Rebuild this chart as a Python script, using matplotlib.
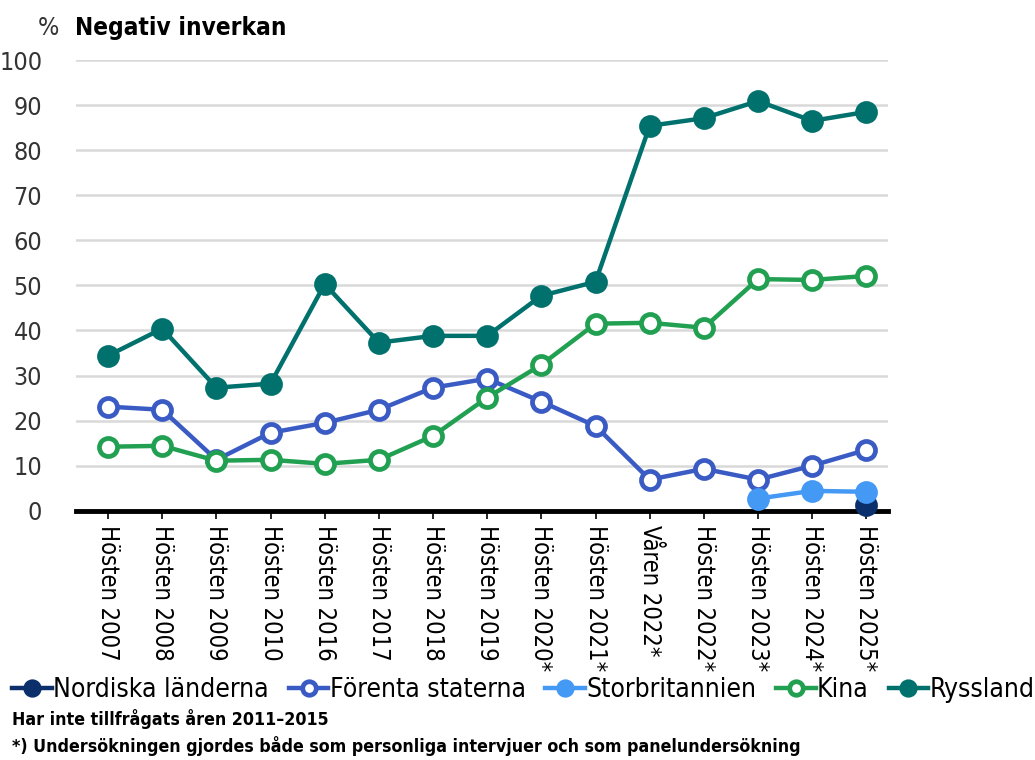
import matplotlib.pyplot as plt
import numpy as np

plt.rcParams['font.family'] = ['DejaVu Sans']
plt.rcParams['font.stretch'] = 'condensed'

# Survey rounds
categories = ['Hösten 2007', 'Hösten 2008', 'Hösten 2009', 'Hösten 2010', 'Hösten 2016',
              'Hösten 2017', 'Hösten 2018', 'Hösten 2019', 'Hösten 2020*', 'Hösten 2021*',
              'Våren 2022*', 'Hösten 2022*', 'Hösten 2023*', 'Hösten 2024*', 'Hösten 2025*']

# Share answering "negative influence" (%)
ryssland = [34.4, 40.4, 27.3, 28.2, 50.3, 37.3, 38.8, 38.8, 47.7, 50.8, 85.4, 87.1, 90.9, 86.5, 88.5]
usa = [23.1, 22.4, 11.3, 17.3, 19.5, 22.4, 27.3, 29.3, 24.2, 18.8, 6.9, 9.3, 6.9, 10.0, 13.5]
kina = [14.2, 14.4, 11.1, 11.3, 10.4, 11.3, 16.6, 25.1, 32.4, 41.5, 41.7, 40.6, 51.4, 51.2, 52.1]
storbritannien = [None] * 12 + [2.7, 4.4, 4.2]
nordiska = [None] * 14 + [1.3]

series = [
    ('Nordiska länderna', nordiska, '#0a2f6b', True),
    ('Förenta staterna', usa, '#3a5bc4', False),
    ('Storbritannien', storbritannien, '#4499f5', True),
    ('Kina', kina, '#22a052', False),
    ('Ryssland', ryssland, '#00716d', True),
]

fig = plt.figure(figsize=(10.35, 7.6), dpi=100)
ax = fig.add_axes([0.073, 0.328, 0.785, 0.593])

x = np.arange(len(categories))
for label, vals, color, filled in series:
    y = np.array([np.nan if v is None else v for v in vals], dtype=float)
    ax.plot(x, y, color=color, linewidth=3.2, marker='o', markersize=13,
            markerfacecolor=color if filled else 'white', markeredgecolor=color,
            markeredgewidth=3.4, label=label, zorder=3, clip_on=False)

ax.set_ylim(0, 100)
ax.set_xlim(-0.6, len(categories) - 0.6)
ax.set_yticks(range(0, 101, 10))
ax.yaxis.grid(True, color='#d9d9d9', linewidth=1.8)
ax.set_axisbelow(True)
ax.tick_params(axis='y', length=0, labelsize=18, labelcolor='#333333', pad=24)
ax.set_xticks(x)
ax.set_xticklabels(categories, rotation=-90, fontsize=17)
ax.tick_params(axis='x', length=6, width=1.2, pad=4)
for s in ['top', 'right', 'left']:
    ax.spines[s].set_visible(False)
ax.spines['bottom'].set_linewidth(3.5)
ax.spines['bottom'].set_zorder(2)

fig.text(0.047, 0.963, '%', fontsize=18, color='#333333', ha='center', va='center')
fig.text(0.072, 0.963, 'Negativ inverkan', fontsize=17.5, fontweight='bold', ha='left', va='center')

fig.legend(loc='center left', bbox_to_anchor=(0.012, 0.092), ncol=5, frameon=False,
           fontsize=19, handlelength=1.5, handletextpad=0.05, columnspacing=0.75,
           markerscale=0.75, borderaxespad=0, borderpad=0)

fig.text(0.012, 0.046, 'Har inte tillfrågats åren 2011–2015', fontsize=12.8, fontweight='bold')
fig.text(0.012, 0.011, '*) Undersökningen gjordes både som personliga intervjuer och som panelundersökning',
         fontsize=12.8, fontweight='bold')

fig.savefig('out.png', dpi=100)
